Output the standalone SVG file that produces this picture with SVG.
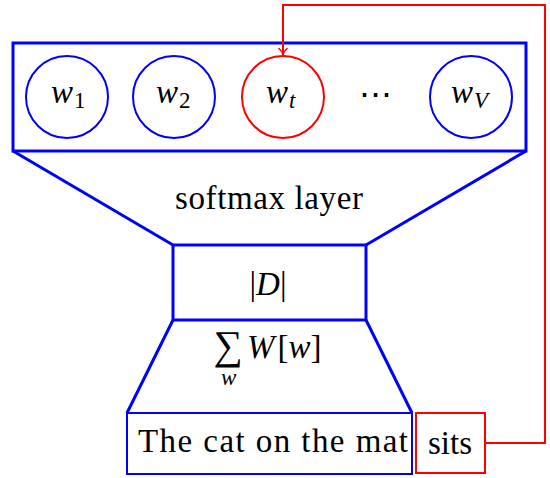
<svg xmlns="http://www.w3.org/2000/svg" width="550" height="478" viewBox="0 0 550 478">
<defs>
<style>
.blue{fill:none;stroke:#0000ff;}
.thick{stroke-width:3;}
.thin{stroke-width:2;}
.red{fill:none;stroke:#ff0000;stroke-width:2;}
.t{font-family:"Liberation Serif","Times New Roman",serif;font-size:33px;fill:#000;}
.i{font-style:italic;}
.sub{font-size:23px;}
.big{font-size:41px;}
</style>
<marker id="arr" markerWidth="12" markerHeight="12" refX="10" refY="6" orient="auto" markerUnits="userSpaceOnUse">
<path d="M3,1.5 Q6,5 10,6 Q6,7 3,10.5" fill="none" stroke="#ff0000" stroke-width="1.5"/>
</marker>
</defs>
<rect width="550" height="478" fill="#fff"/>
<g id="softmax">
<rect x="13" y="43" width="513" height="108" class="blue thick"/>
<text x="269" y="209" class="t" text-anchor="middle" textLength="188" lengthAdjust="spacing">softmax layer</text>
</g>
<g id="w1">
<circle cx="67" cy="97" r="41" class="blue thin"/>
<text x="51" y="103" class="t i">w<tspan class="sub" font-style="normal" dx="1" dy="5">1</tspan></text>
</g>
<g id="w2">
<circle cx="174" cy="97" r="41" class="blue thin"/>
<text x="156" y="103" class="t i">w<tspan class="sub" font-style="normal" dx="1" dy="5">2</tspan></text>
</g>
<g id="wt">
<circle cx="283" cy="97" r="41" class="red"/>
<text x="266" y="103" class="t i">w<tspan class="sub" dx="1" dy="5">t</tspan></text>
</g>
<g id="dots">
<text x="375" y="106" class="t" text-anchor="middle">⋯</text>
</g>
<g id="wV">
<circle cx="471" cy="97" r="41" class="blue thin"/>
<text x="451" y="103" class="t i">w<tspan class="sub" dx="1" dy="5">V</tspan></text>
</g>
<g id="funnel">
<line x1="13" y1="151" x2="173" y2="245" class="blue thick"/>
<line x1="526" y1="151" x2="366" y2="245" class="blue thick"/>
<line x1="173" y1="320" x2="127" y2="413" class="blue thick"/>
<line x1="366" y1="320" x2="412" y2="413" class="blue thick"/>
</g>
<g id="D">
<rect x="173" y="245" width="193" height="75" class="blue thick"/>
<text x="268" y="295" class="t" text-anchor="middle">|<tspan class="i">D</tspan>|</text>
</g>
<g id="sum">
<text x="228" y="359" class="t big" text-anchor="middle">∑</text>
<text x="221" y="385" class="t i sub">w</text>
<text x="247" y="358" class="t"><tspan class="i">W</tspan><tspan dx="3">[</tspan><tspan class="i">w</tspan>]</text>
</g>
<g id="context">
<rect x="127" y="413" width="285" height="61" class="blue thin"/>
<text x="138" y="452" class="t" textLength="270" lengthAdjust="spacing">The cat on the mat</text>
</g>
<g id="sits">
<rect x="416" y="413" width="69" height="60" class="red"/>
<text x="450" y="454" class="t" text-anchor="middle">sits</text>
</g>
<g id="connectors">
<path d="M485,443 H545 V5 H283 V55" class="red" stroke-width="1.6" marker-end="url(#arr)"/>
</g>
</svg>
